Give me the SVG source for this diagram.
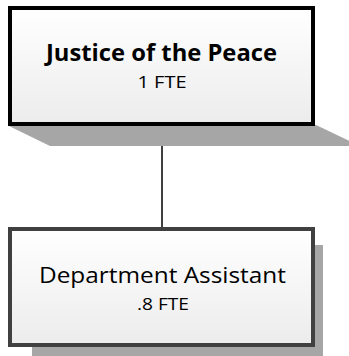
<svg xmlns="http://www.w3.org/2000/svg" width="349" height="356" viewBox="0 0 349 356">
<defs>
<linearGradient id="g" x1="0" y1="0" x2="0" y2="1">
<stop offset="0" stop-color="#ffffff"/>
<stop offset="1" stop-color="#ececec"/>
</linearGradient>
<style>
.shadow{fill:#a6a6a6;}
.box{fill:url(#g);stroke-width:4;}
.t{font-family:"Open Sans","Noto Sans",sans-serif;fill:#000;text-anchor:middle;}
.conn{stroke:#404040;stroke-width:2;fill:none;}
</style>
</defs>
<g id="connectors">
<line class="conn" x1="162" y1="146" x2="162" y2="229"/>
</g>
<g id="node-justice">
<polygon class="shadow" points="9,126 50,146 360,146 316,125"/>
<rect class="box" x="10" y="8" width="303" height="116" stroke="#000000"/>
<text class="t" x="161.5" y="61" font-size="23.5" font-weight="bold" textLength="231" lengthAdjust="spacingAndGlyphs">Justice of the Peace</text>
<text class="t" x="162" y="88" font-size="16" textLength="49" lengthAdjust="spacingAndGlyphs">1 FTE</text>
</g>
<g id="node-assistant">
<rect class="shadow" x="32" y="245" width="291" height="111"/>
<rect class="box" x="10" y="229" width="303" height="116" stroke="#404040"/>
<text class="t" x="162.5" y="283" font-size="22.5" textLength="247" lengthAdjust="spacingAndGlyphs">Department Assistant</text>
<text class="t" x="163" y="310" font-size="16" textLength="52" lengthAdjust="spacingAndGlyphs">.8 FTE</text>
</g>
</svg>
